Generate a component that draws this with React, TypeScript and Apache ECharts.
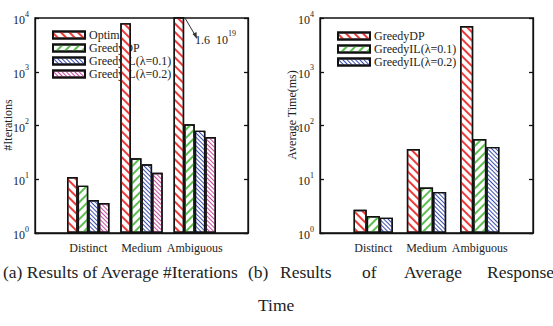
import React, { useEffect, useRef } from 'react';
import * as echarts from 'echarts';

const CATEGORIES = ['Distinct', 'Medium', 'Ambiguous'];
const ITER_NAMES = ['Optimal', 'GreedyDP', 'GreedyIL(λ=0.1)', 'GreedyIL(λ=0.2)'];
const ITER_OPTIMAL = [11, 8000, 1.6e19];
const ITER_GREEDYDP = [7.6, 24.5, 105];
const ITER_IL01 = [4.1, 19, 80];
const ITER_IL02 = [3.6, 13.2, 61];
const TIME_NAMES = ['GreedyDP', 'GreedyIL(λ=0.1)', 'GreedyIL(λ=0.2)'];
const TIME_GREEDYDP = [2.7, 36.5, 7100];
const TIME_IL01 = [2.07, 7.0, 56];
const TIME_IL02 = [1.93, 5.8, 40];
const Y_MIN = 1;
const Y_MAX = 10000;

const SERIF = 'Liberation Serif';
const ZW = '\u200b';

const decal = (color: string, w: number, gap: number, rot: number) => ({
  symbol: 'rect',
  symbolSize: 1,
  color,
  dashArrayX: [1, 0],
  dashArrayY: [w, gap],
  rotation: rot,
});

const RED = decal('#ee3a3a', 1.4, 3.2, Math.PI / 4);
const GREEN = decal('#5cbf4f', 1.4, 3.2, -Math.PI / 4);
const BLUE = decal('#3c4fb0', 1, 1.2, Math.PI / 4);
const PINK = decal('#c8489c', 1, 1.2, Math.PI / 4);

const pad = (arr: number[]) => ['-', ...arr, '-'];

export default function App() {
  const ref = useRef<HTMLDivElement>(null);
  useEffect(() => {
    if (!ref.current) return;
    const chart = echarts.init(ref.current, null, { renderer: 'svg' });

    const yAxisFor = (gridIndex: number, side: 'left' | 'right') => ({
      type: 'log',
      logBase: 10,
      gridIndex,
      position: side,
      min: Y_MIN,
      max: Y_MAX,
      axisLine: { show: true, lineStyle: { color: '#111', width: 1.3 } },
      axisTick: { show: true, inside: true, length: 4, lineStyle: { color: '#111', width: 1.3 } },
      minorTick: { show: false },
      splitLine: { show: false },
      axisLabel: {
        show: side === 'left',
        margin: 6,
        formatter: (v: number) => `{b|10}{s|${Math.round(Math.log10(v))}}`,
        rich: {
          b: { fontSize: 12, fontFamily: SERIF, color: '#222', lineHeight: 16, verticalAlign: 'bottom' },
          s: { fontSize: 8, fontFamily: SERIF, color: '#222', lineHeight: 16, verticalAlign: 'top' },
        },
      },
    });

    const xAxisFor = (gridIndex: number) => ({
      type: 'category',
      gridIndex,
      boundaryGap: false,
      data: ['', ...CATEGORIES, ''],
      axisLine: { show: true, lineStyle: { color: '#111', width: 1.3 } },
      axisTick: { show: false },
      axisLabel: { interval: 0, margin: 9, fontSize: 12, fontFamily: SERIF, color: '#222' },
    });

    const bar = (name: string, data: number[], dec: any, xi: number, width: number) => ({
      type: 'bar',
      name,
      xAxisIndex: xi,
      yAxisIndex: xi * 2,
      data: pad(data),
      barWidth: width,
      barGap: '0%',
      z: 6,
      clip: true,
      itemStyle: { color: '#fff', borderColor: '#111', borderWidth: 1.4, decal: dec },
    });

    const legendCommon = {
      orient: 'vertical',
      icon: 'rect',
      itemWidth: 32,
      itemHeight: 7,
      itemGap: 1,
      z: 1,
      selectedMode: false,
      textStyle: { fontSize: 12, fontFamily: SERIF, color: '#222', padding: [0, 0, 0, -1] },
      formatter: (n: string) => n.replace(ZW, ''),
    };

    const captionB = [
      ['(b)', 248],
      ['Results', 280],
      ['of', 362],
      ['Average', 404],
      ['Response', 487],
    ];

    const capStyle = { fontSize: 17.5, fontFamily: SERIF, fill: '#222', verticalAlign: 'middle' };

    chart.setOption({
      animation: false,
      grid: [
        { left: 35, top: 18, width: 213, height: 215, show: true, borderColor: '#111', borderWidth: 1.3, backgroundColor: 'transparent' },
        { left: 320, top: 18, width: 213, height: 215, show: true, borderColor: '#111', borderWidth: 1.3, backgroundColor: 'transparent' },
      ],
      xAxis: [xAxisFor(0), xAxisFor(1)],
      yAxis: [yAxisFor(0, 'left'), yAxisFor(0, 'right'), yAxisFor(1, 'left'), yAxisFor(1, 'right')],
      legend: [
        { ...legendCommon, left: 47, top: 24, data: ITER_NAMES },
        { ...legendCommon, left: 332, top: 25, data: TIME_NAMES.map((n) => n + ZW) },
      ],
      series: [
        bar(ITER_NAMES[0], ITER_OPTIMAL, RED, 0, 10.6),
        bar(ITER_NAMES[1], ITER_GREEDYDP, GREEN, 0, 10.6),
        bar(ITER_NAMES[2], ITER_IL01, BLUE, 0, 10.6),
        bar(ITER_NAMES[3], ITER_IL02, PINK, 0, 10.6),
        bar(TIME_NAMES[0] + ZW, TIME_GREEDYDP, RED, 1, 13.1),
        bar(TIME_NAMES[1] + ZW, TIME_IL01, GREEN, 1, 13.1),
        bar(TIME_NAMES[2] + ZW, TIME_IL02, BLUE, 1, 13.1),
      ],
      graphic: [
        {
          type: 'text', x: 8, y: 125, rotation: Math.PI / 2, z: 10,
          style: { text: '#Iterations', fontSize: 12, fontFamily: SERIF, fill: '#222', align: 'center', verticalAlign: 'middle' },
        },
        {
          type: 'text', x: 292, y: 115, rotation: Math.PI / 2, z: 10,
          style: { text: 'Average Time(ms)', fontSize: 12, fontFamily: SERIF, fill: '#222', align: 'center', verticalAlign: 'middle' },
        },
        {
          type: 'line', z: 10,
          shape: { x1: 185, y1: 18, x2: 195, y2: 35 },
          style: { stroke: '#333', lineWidth: 1 },
        },
        {
          type: 'polygon', z: 10,
          shape: { points: [[197, 39], [192.5, 34], [196.5, 32]] },
          style: { fill: '#333' },
        },
        {
          type: 'text', x: 195, y: 46, z: 10,
          style: {
            text: '{n|1.6  10}{s|19}',
            verticalAlign: 'bottom',
            rich: {
              n: { fontSize: 12, fontFamily: SERIF, fill: '#222', lineHeight: 17, verticalAlign: 'bottom' },
              s: { fontSize: 8, fontFamily: SERIF, fill: '#222', lineHeight: 17, verticalAlign: 'top' },
            },
          },
        },
        {
          type: 'text', x: 3, y: 272, z: 10,
          style: { ...capStyle, text: '(a) Results of Average #Iterations' },
        },
        ...captionB.map(([t, x]) => ({
          type: 'text', x: x as number, y: 272, z: 10,
          style: { ...capStyle, text: t as string },
        })),
        {
          type: 'text', x: 258, y: 305, z: 10,
          style: { ...capStyle, text: 'Time' },
        },
      ],
    });
    return () => chart.dispose();
  }, []);
  return (
    <div
      ref={ref}
      style={{ position: 'fixed', left: 0, top: 0, width: 553, height: 326, background: '#fff' }}
    />
  );
}
